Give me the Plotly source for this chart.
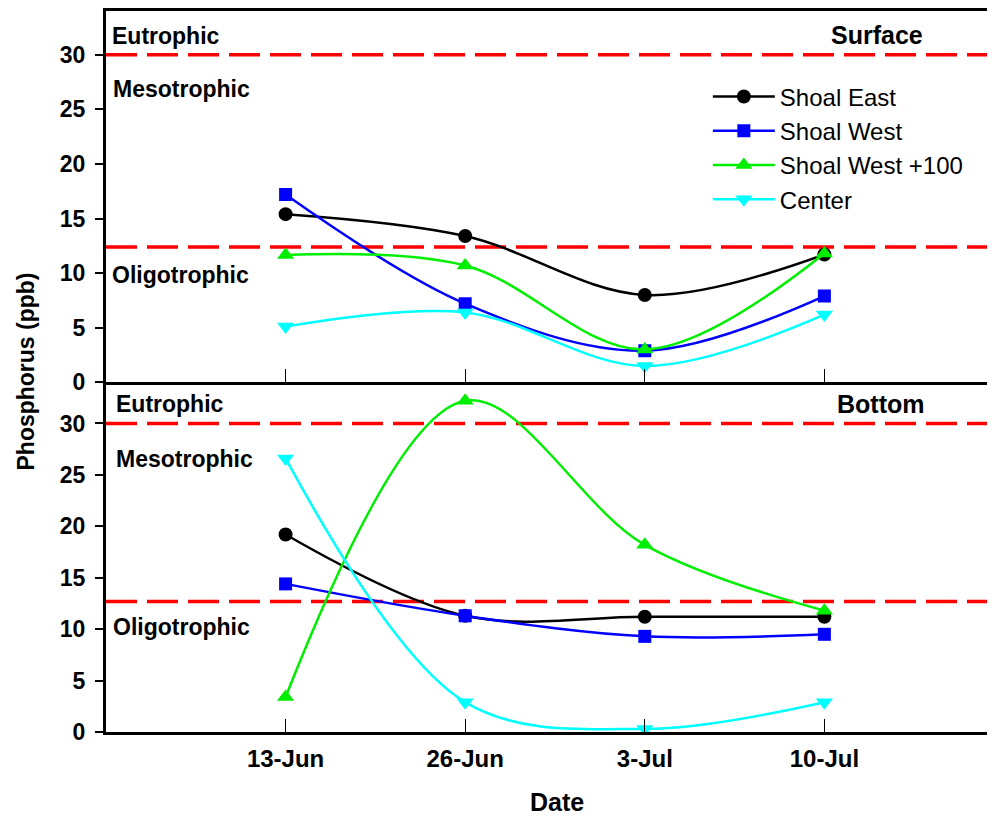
import plotly.graph_objects as go
from plotly.subplots import make_subplots

# ---- data ----
dates = ["13-Jun", "26-Jun", "3-Jul", "10-Jul"]
date_pos = [1, 2, 3, 4]
series_names = ["Shoal East", "Shoal West", "Shoal West +100", "Center"]

surface_shoal_east = [15.4, 13.4, 8.0, 11.7]
surface_shoal_west = [17.2, 7.2, 2.9, 7.9]
surface_shoal_west_100 = [11.65, 10.7, 3.0, 11.8]
surface_center = [5.1, 6.4, 1.5, 6.2]

bottom_shoal_east = [19.2, 11.3, 11.2, 11.2]
bottom_shoal_west = [14.4, 11.3, 9.3, 9.5]
bottom_shoal_west_100 = [3.4, 32.2, 18.2, 11.8]
bottom_center = [26.6, 2.9, 0.3, 2.9]

surface_thresholds = [30, 12.4]
bottom_thresholds = [30, 12.7]
y_ticks = [0, 5, 10, 15, 20, 25, 30]

colors = ["#000000", "#0000FF", "#00EE00", "#00FFFF"]
symbols = ["circle", "square", "triangle-up", "triangle-down"]
msizes = [14, 13, 15, 15]

FONT = "Arial, Liberation Sans, sans-serif"

fig = make_subplots(rows=2, cols=1, shared_xaxes=True, vertical_spacing=0,
                    row_heights=[0.515, 0.485])

surface = [surface_shoal_east, surface_shoal_west, surface_shoal_west_100, surface_center]
bottom = [bottom_shoal_east, bottom_shoal_west, bottom_shoal_west_100, bottom_center]

for row, data in ((1, surface), (2, bottom)):
    for i, vals in enumerate(data):
        fig.add_trace(go.Scatter(
            x=date_pos, y=vals, mode="lines+markers", name=series_names[i],
            line=dict(color=colors[i], width=2.5, shape="spline", smoothing=1),
            marker=dict(symbol=symbols[i], size=msizes[i], color=colors[i]),
            showlegend=(row == 1),
        ), row=row, col=1)

# threshold lines
for row, th in ((1, surface_thresholds), (2, bottom_thresholds)):
    yref = "y" if row == 1 else "y2"
    xref = "x domain" if row == 1 else "x2 domain"
    for t in th:
        fig.add_shape(type="line", xref=xref, yref=yref, x0=0, x1=1, y0=t, y1=t,
                      line=dict(color="#FF0000", width=3.5, dash="31px,10px"),
                      layer="below")

# region labels
def lab(text, xd, y, yref, xref, size=23, anchor="left"):
    fig.add_annotation(text=f"<b>{text}</b>", xref=xref, yref=yref, x=xd, y=y,
                       xanchor=anchor, yanchor="middle", showarrow=False,
                       font=dict(family=FONT, size=size, color="black"))

lab("Eutrophic", 0.005, 31.75, "y", "x domain")
lab("Mesotrophic", 0.006, 26.9, "y", "x domain")
lab("Oligotrophic", 0.005, 9.85, "y", "x domain")
lab("Surface", 0.921, 31.8, "y", "x domain", size=25, anchor="right")
lab("Eutrophic", 0.009, 31.9, "y2", "x2 domain")
lab("Mesotrophic", 0.009, 26.5, "y2", "x2 domain")
lab("Oligotrophic", 0.006, 10.2, "y2", "x2 domain")
lab("Bottom", 0.922, 31.9, "y2", "x2 domain", size=25, anchor="right")

# axis titles
fig.add_annotation(text="<b>Phosphorus (ppb)</b>", xref="paper", yref="paper",
                   x=-0.0911, y=0.5, textangle=-90, showarrow=False,
                   xanchor="center", yanchor="middle",
                   font=dict(family=FONT, size=23, color="black"))
fig.add_annotation(text="<b>Date</b>", xref="paper", yref="paper",
                   x=0.507, y=-0.0967, showarrow=False,
                   xanchor="center", yanchor="middle",
                   font=dict(family=FONT, size=25, color="black"))

xcommon = dict(range=[0, 4.95], tickvals=date_pos, ticktext=dates,
               ticks="inside", ticklen=13, tickwidth=1.2, tickcolor="black",
               showline=True, linewidth=3, linecolor="black", showgrid=False,
               zeroline=False)
fig.update_xaxes(**xcommon, mirror=True, showticklabels=False, row=1, col=1)
fig.update_xaxes(**xcommon, showticklabels=True, ticklabelstandoff=3,
                 tickfont=dict(family=FONT, size=24, color="black", weight="bold"),
                 row=2, col=1)

ycommon = dict(range=[0, 34], tickvals=y_ticks, ticks="outside", ticklen=8,
               tickwidth=1.5, tickcolor="black", showline=True, linewidth=3,
               linecolor="black", showgrid=False, zeroline=False,
               ticklabelstandoff=5,
               tickfont=dict(family=FONT, size=23, color="black", weight="bold"))
fig.update_yaxes(**ycommon, row=1, col=1)
fig.update_yaxes(**ycommon, row=2, col=1)

# page body adds an 8px offset; figure sized to compensate
fig.update_layout(
    width=987, height=809,
    margin=dict(l=98, r=0, t=0, b=85),
    plot_bgcolor="white", paper_bgcolor="white",
    font=dict(family=FONT, color="black"),
    legend=dict(x=0.677, y=0.912, xanchor="left", yanchor="top",
                bgcolor="rgba(0,0,0,0)", borderwidth=0,
                font=dict(family=FONT, size=24, color="black"),
                itemwidth=62, tracegroupgap=0),
)

fig.write_html("out.html")
